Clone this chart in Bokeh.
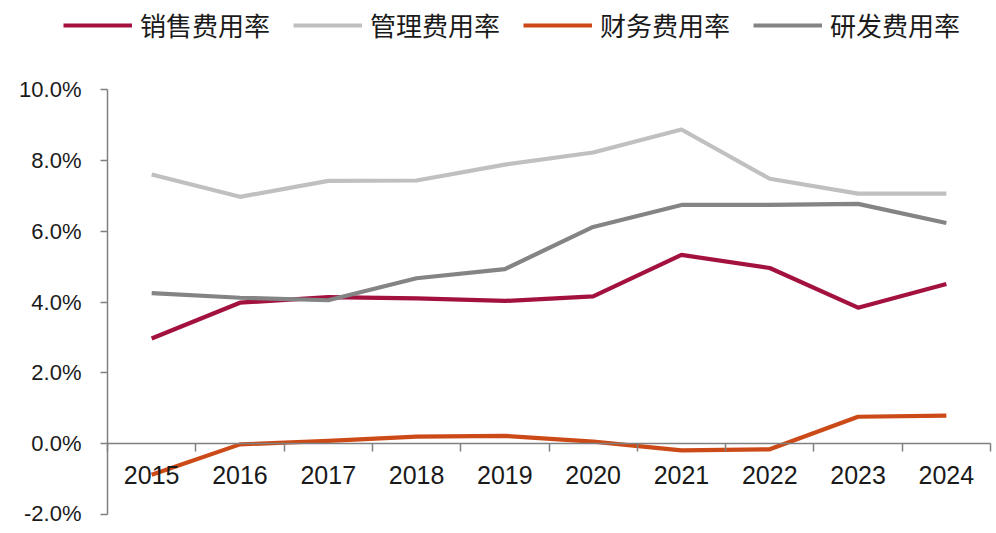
import numpy as np
from bokeh.plotting import figure
from bokeh.models import (Range1d, LinearAxis, FixedTicker, PrintfTickFormatter,
                          Legend, LegendItem)
from bokeh.embed import file_html
from bokeh.resources import INLINE

years = ["2015", "2016", "2017", "2018", "2019", "2020", "2021", "2022", "2023", "2024"]
sales_rate = [2.97, 3.98, 4.14, 4.10, 4.03, 4.16, 5.33, 4.96, 3.84, 4.51]
admin_rate = [7.60, 6.97, 7.42, 7.43, 7.88, 8.22, 8.87, 7.48, 7.06, 7.06]
fin_rate = [-0.88, -0.02, 0.08, 0.20, 0.22, 0.06, -0.19, -0.16, 0.76, 0.79]
rd_rate = [4.25, 4.12, 4.05, 4.67, 4.93, 6.12, 6.74, 6.74, 6.77, 6.23]
y_ticks = [-2, 0, 2, 4, 6, 8, 10]

names = ["销售费用率", "管理费用率", "财务费用率", "研发费用率"]
colors = ["#A3123F", "#C0C0C0", "#CC4A17", "#848484"]
series = [sales_rate, admin_rate, fin_rate, rd_rate]

W, H = 993, 525
# pixel geometry of the plotting area inside the canvas
left_px, right_px, top_px, bottom_px = 107, 990, 89, 514
n = len(years)
ymin, ymax = y_ticks[0], y_ticks[-1]
sx = (right_px - left_px) / n
sy = (bottom_px - top_px) / (ymax - ymin)
x0 = -left_px / sx
x1 = x0 + W / sx
y1 = ymax + top_px / sy
y0 = ymin - (H - bottom_px) / sy

p = figure(width=W, height=H, output_backend="svg", toolbar_location=None,
           x_range=Range1d(x0, x1), y_range=Range1d(y0, y1),
           x_axis_type=None, y_axis_type=None,
           min_border_left=0, min_border_right=0, min_border_top=0,
           min_border_bottom=0)
p.outline_line_color = None
p.xgrid.visible = False
p.ygrid.visible = False
p.background_fill_color = "white"
p.border_fill_color = "white"

xc = np.arange(n) + 0.5

renderers = []
for vals, c in zip(series, colors):
    r = p.line(xc, vals, line_color=c, line_width=4.2, line_join="round")
    renderers.append(r)

# y axis
yax = LinearAxis(ticker=FixedTicker(ticks=y_ticks),
                 formatter=PrintfTickFormatter(format="%.1f%%"))
yax.fixed_location = 0
yax.bounds = (ymin, ymax)
yax.axis_line_color = "#808080"
yax.axis_line_width = 1.5
yax.major_tick_line_color = "#808080"
yax.major_tick_line_width = 1.5
yax.major_tick_out = 7
yax.major_tick_in = 0
yax.minor_tick_line_color = None
yax.major_label_standoff = 19
yax.major_label_text_font = "Liberation Sans"
yax.major_label_text_font_size = "22px"
yax.major_label_text_color = "#1a1a1a"
p.add_layout(yax, "left")

# x axis line with ticks at category boundaries
xax = LinearAxis(ticker=FixedTicker(ticks=list(range(n + 1))))
xax.fixed_location = 0
xax.bounds = (0, n)
xax.axis_line_color = "#808080"
xax.axis_line_width = 1.5
xax.major_tick_line_color = "#808080"
xax.major_tick_line_width = 1.5
xax.major_tick_out = 8
xax.major_tick_in = 0
xax.minor_tick_line_color = None
xax.major_label_text_font_size = "0px"
xax.major_label_overrides = {i: "" for i in range(n + 1)}
p.add_layout(xax, "below")

# x labels at category centres
xlab = LinearAxis(ticker=FixedTicker(ticks=list(xc)))
xlab.fixed_location = 0
xlab.axis_line_color = None
xlab.major_tick_line_color = None
xlab.minor_tick_line_color = None
xlab.major_tick_out = 0
xlab.major_tick_in = 0
xlab.major_label_standoff = 22
xlab.major_label_overrides = {float(x): y for x, y in zip(xc, years)}
xlab.major_label_text_font = "Liberation Sans"
xlab.major_label_text_font_size = "25px"
xlab.major_label_text_color = "#1a1a1a"
p.add_layout(xlab, "below")

legend = Legend(items=[LegendItem(label=nm, renderers=[r]) for nm, r in zip(names, renderers)],
                orientation="horizontal", location=(63, H - 43))
legend.border_line_color = None
legend.background_fill_alpha = 0
legend.padding = 0
legend.margin = 0
legend.spacing = 23
legend.glyph_width = 69
legend.glyph_height = 30
legend.label_standoff = 8
legend.label_height = 30
legend.label_text_font = "Noto Sans CJK SC"
legend.label_text_font_size = "26px"
legend.label_text_color = "#1a1a1a"
p.add_layout(legend, "center")

open("out.html", "w").write(file_html(p, INLINE))
